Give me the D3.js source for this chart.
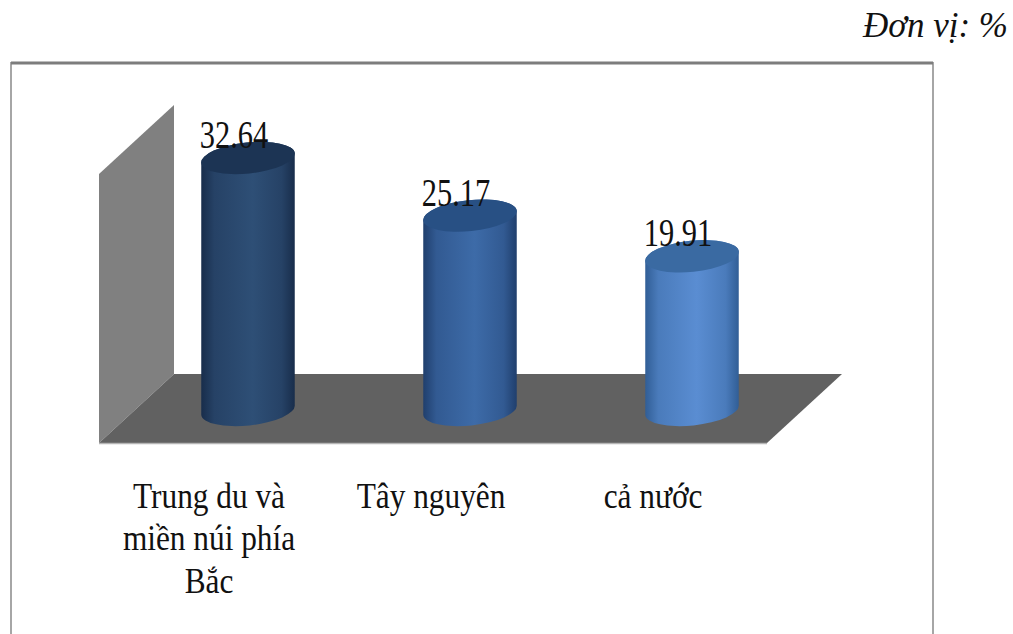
<!DOCTYPE html>
<html lang="vi">
<head>
<meta charset="utf-8">
<title>Đơn vị: %</title>
<script src="https://cdn.jsdelivr.net/npm/d3@7"></script>
<style>
  html, body { margin: 0; padding: 0; background: #fff; }
  svg { display: block; }
  text { font-family: "Liberation Serif", "Times New Roman", serif; fill: #111; }
</style>
</head>
<body>
<svg id="chart" width="1013" height="634"></svg>
<script>
// Chart values
const categories = ["Trung du và miền núi phía Bắc", "Tây nguyên", "cả nước"];
const values = [32.64, 25.17, 19.91];
const valueLabels = ["32.64", "25.17", "19.91"];
const categoryLines = [["Trung du và", "miền núi phía", "Bắc"], ["Tây nguyên"], ["cả nước"]];
const unitLabel = "Đơn vị: %";

// Cylinder shading: side edge, side centre, top cap
const edgeColors = ["#182d4b", "#203f6d", "#315e96"];
const centerColors = ["#2e4f76", "#3d6ba8", "#5a8dd2"];
const capColors = ["#1c3454", "#285084", "#3a6aa2"];

const svg = d3.select("#chart");
const width = 1013, height = 634;

const x = d3.scalePoint().domain(categories).range([248, 692]);
const y = d3.scaleLinear().domain([0, 32.64]).range([410, 158]);

const radiusX = 47, radiusY = 15.5, tilt = -6;
const tiltRad = tilt * Math.PI / 180;
const dx = radiusX * Math.cos(tiltRad), dy = radiusX * Math.sin(tiltRad);

// Horizontal shading for each cylinder side: thin dark rims, broad lit centre
const defs = svg.append("defs");
categories.forEach((c, i) => {
  const mix = d3.interpolateRgb(edgeColors[i], centerColors[i]);
  const g = defs.append("linearGradient").attr("id", `side${i}`)
    .attr("x1", 0).attr("x2", 1).attr("y1", 0).attr("y2", 0);
  [[0, 0], [0.14, 0.62], [0.55, 1], [0.86, 0.62], [1, 0]].forEach(([offset, t]) => {
    g.append("stop").attr("offset", offset).attr("stop-color", mix(t));
  });
});

// Frame, open at the bottom of the page
svg.append("path")
  .attr("d", `M11,${height} V63 H933 V${height}`)
  .attr("fill", "none").attr("stroke", "#a6a6a6").attr("stroke-width", 2);
svg.append("path")
  .attr("d", "M11,63 H933")
  .attr("fill", "none").attr("stroke", "#7d7d7d").attr("stroke-width", 3);

// Back wall and floor of the 3D plot area
const wallLeft = 99, wallRight = 174, floorFront = 443, floorBack = 374;
const floorEndFront = 767, floorEndBack = 842;
svg.append("path")
  .attr("d", `M${wallLeft},174 L${wallRight},105 V${floorBack} L${wallLeft},${floorFront} Z`)
  .attr("fill", "#808080");
svg.append("path")
  .attr("d", `M${wallRight},${floorBack} H${floorEndBack} L${floorEndFront},${floorFront} H${wallLeft} Z`)
  .attr("fill", "#616161");
svg.append("path")
  .attr("d", `M${wallLeft},${floorFront + 0.5} H${floorEndFront}`)
  .attr("stroke", "#b5b5b5").attr("stroke-width", 1.5);

// Cylinders
const bars = svg.append("g").selectAll("g")
  .data(categories.map((c, i) => ({ c, i, v: values[i] })))
  .join("g");

bars.append("path")
  .attr("fill", d => `url(#side${d.i})`)
  .attr("d", d => {
    const cx = x(d.c), top = y(d.v), base = y(0);
    return `M${cx - dx},${top - dy} L${cx - dx},${base - dy}` +
      `A${radiusX},${radiusY} ${tilt} 0 0 ${cx + dx},${base + dy}` +
      `L${cx + dx},${top + dy}` +
      `A${radiusX},${radiusY} ${tilt} 0 0 ${cx - dx},${top - dy}Z`;
  });

bars.append("ellipse")
  .attr("rx", radiusX).attr("ry", radiusY)
  .attr("fill", d => capColors[d.i])
  .attr("transform", d => `translate(${x(d.c)},${y(d.v)}) rotate(${tilt})`);

// Value labels sit on the cylinder tops, slightly condensed
bars.append("text")
  .text(d => valueLabels[d.i])
  .attr("text-anchor", "middle")
  .attr("font-size", 39)
  .attr("transform", d => `translate(${x(d.c) - 14},${y(d.v) - 10}) scale(0.78,1)`);

// Category labels, wrapped over several lines
const labelOffset = -39, labelTop = 508, lineStep = 42.5;
const labels = svg.append("g").selectAll("g")
  .data(categories.map((c, i) => ({ c, i })))
  .join("g")
  .attr("transform", d => `translate(${x(d.c) + labelOffset},${labelTop}) scale(0.87,1)`);
labels.selectAll("text")
  .data(d => categoryLines[d.i])
  .join("text")
  .attr("text-anchor", "middle")
  .attr("font-size", 36)
  .attr("y", (d, i) => i * lineStep)
  .text(d => d);

// Unit note above the frame
svg.append("text")
  .text(unitLabel)
  .attr("x", 1008).attr("y", 37)
  .attr("text-anchor", "end")
  .attr("font-size", 35)
  .attr("font-style", "italic");
</script>
</body>
</html>
